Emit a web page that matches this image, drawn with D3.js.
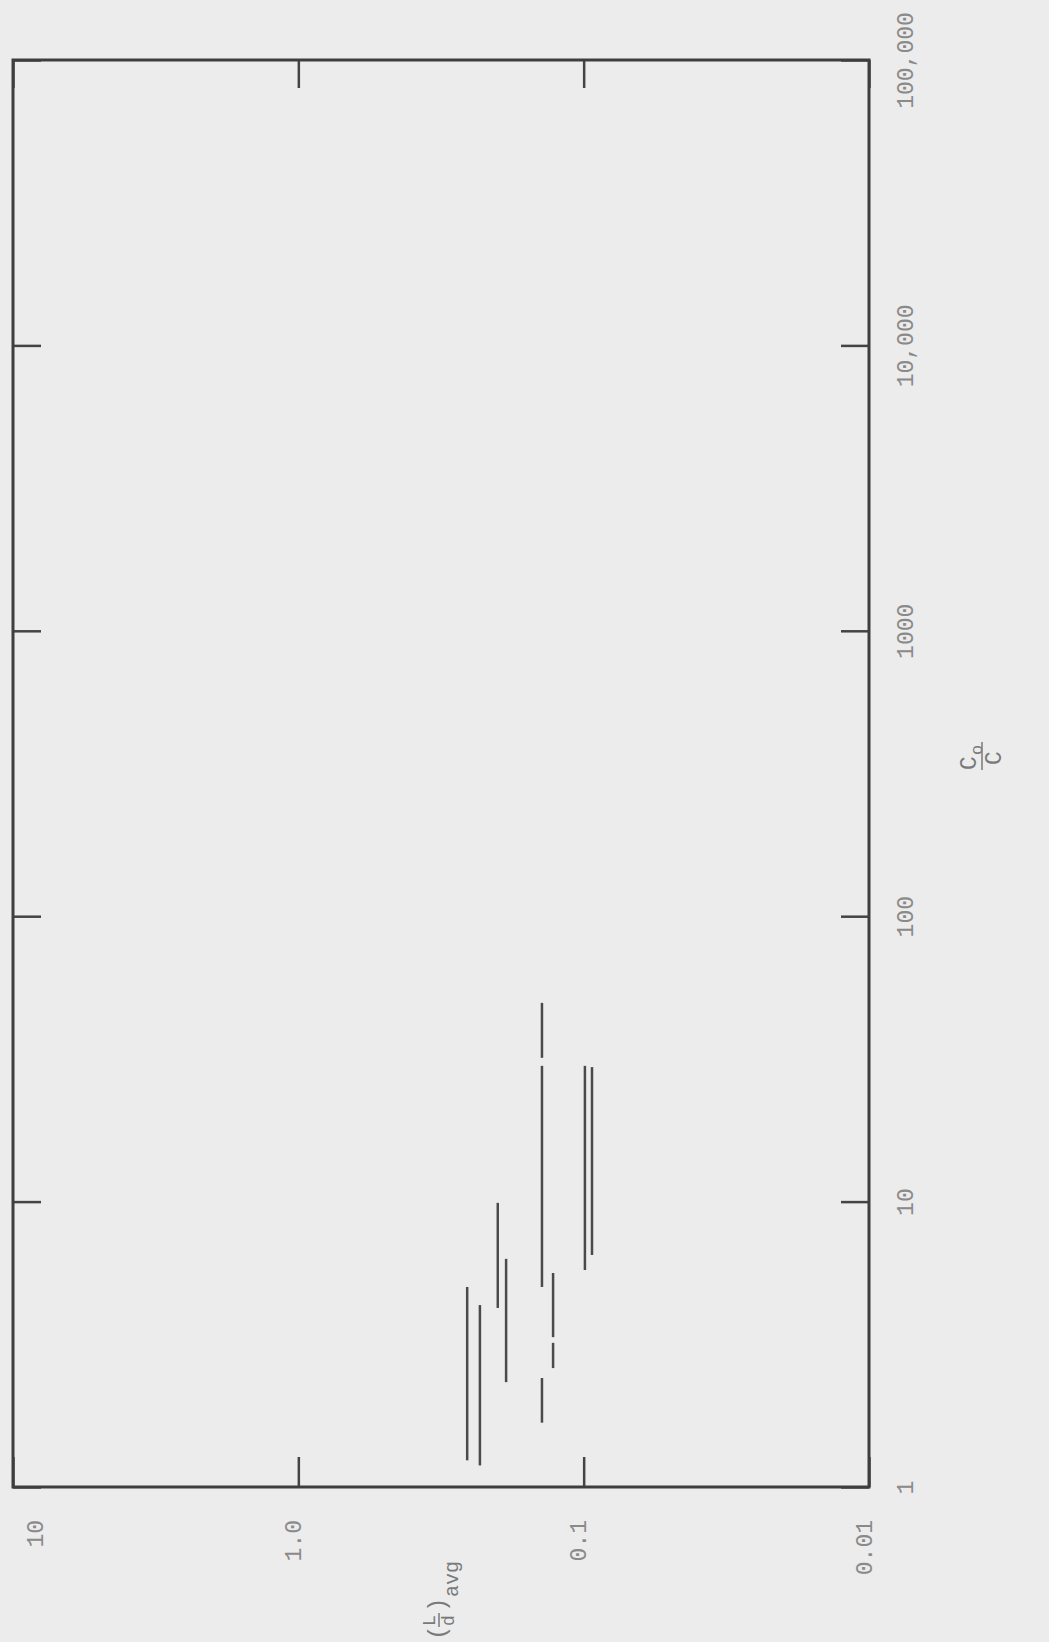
<!DOCTYPE html>
<html>
<head>
<meta charset="utf-8">
<script src="https://cdnjs.cloudflare.com/ajax/libs/d3/7.8.5/d3.min.js"></script>
<style>
	body { margin: 0; background: #ececec; }
	.tick text { font-family: "Liberation Mono", "DejaVu Sans Mono", monospace; fill: #8a8a8a; }
	.axis-title { font-family: "Liberation Mono", "DejaVu Sans Mono", monospace; fill: #7a7a7a; }
</style>
</head>
<body>
<div id="chart"></div>
<script>
	// L/d values (horizontal, decreasing to the right) and C0/C ranges (vertical)
	const ldTicks = [10, 1, 0.1, 0.01];
	const ldTickLabels = ["10", "1.0", "0.1", "0.01"];
	const cTicks = [1, 10, 100, 1000, 10000, 100000];
	const cTickLabels = ["1", "10", "100", "1000", "10,000", "100,000"];

	const segLd   = [0.256, 0.231, 0.200, 0.187, 0.140, 0.140, 0.140, 0.128, 0.128, 0.099, 0.0935];
	const segCLow = [1.24, 1.19, 4.24, 2.33, 5.02, 31.9, 1.68, 3.35, 2.61, 5.76, 6.50];
	const segCHigh = [5.02, 4.34, 9.9, 6.3, 29.9, 49.7, 2.41, 5.62, 3.20, 29.9, 29.6];

	const svgWidth = 1049;
	const svgHeight = 1642;
	const frame = {left: 13, right: 869, top: 60, bottom: 1487};

	var svg = d3.select("#chart").append("svg")
		.attr("width", svgWidth)
		.attr("height", svgHeight)
		.style("display", "block");

	svg.append("rect")
		.attr("width", svgWidth)
		.attr("height", svgHeight)
		.attr("fill", "#ececec");

	var xScale = d3.scaleLog()
		.domain([10, 0.01])
		.range([frame.left, frame.right]);

	var yScale = d3.scaleLog()
		.domain([1, 100000])
		.range([frame.bottom, frame.top]);

	// Axes, ticks pointing into the frame
	var rightAxis = svg.append("g")
		.attr("transform", "translate(" + frame.right + ",0)")
		.call(d3.axisRight(yScale)
			.tickValues(cTicks)
			.tickSizeInner(-28)
			.tickSizeOuter(0)
			.tickFormat(function(d, i) { return cTickLabels[i]; }));

	rightAxis.selectAll(".tick text")
		.attr("x", 0)
		.attr("dy", null)
		.attr("text-anchor", "middle")
		.attr("font-size", 23)
		.attr("transform", "translate(44,0) rotate(-90)");

	svg.append("g")
		.attr("transform", "translate(" + frame.left + ",0)")
		.call(d3.axisLeft(yScale)
			.tickValues(cTicks)
			.tickSizeInner(-28)
			.tickSizeOuter(0)
			.tickFormat(""));

	var bottomAxis = svg.append("g")
		.attr("transform", "translate(0," + frame.bottom + ")")
		.call(d3.axisBottom(xScale)
			.tickValues(ldTicks)
			.tickSizeInner(-30)
			.tickSizeOuter(0)
			.tickFormat(function(d, i) { return ldTickLabels[i]; }));

	bottomAxis.selectAll(".tick text")
		.attr("y", 0)
		.attr("dy", null)
		.attr("text-anchor", "end")
		.attr("font-size", 23)
		.attr("transform", function(d) {
			var shift = Math.max(xScale(d) + 2, 42) - xScale(d);
			return "translate(" + shift + ",33) rotate(-90)";
		});

	svg.append("g")
		.attr("transform", "translate(0," + frame.top + ")")
		.call(d3.axisTop(xScale)
			.tickValues(ldTicks)
			.tickSizeInner(-28)
			.tickSizeOuter(0)
			.tickFormat(""));

	svg.selectAll(".domain").remove();
	svg.selectAll(".tick line")
		.attr("stroke", "#444")
		.attr("stroke-width", 2.5);

	// Frame
	svg.append("rect")
		.attr("x", frame.left)
		.attr("y", frame.top)
		.attr("width", frame.right - frame.left)
		.attr("height", frame.bottom - frame.top)
		.attr("fill", "none")
		.attr("stroke", "#3e3e3e")
		.attr("stroke-width", 3);

	// Data ranges
	svg.selectAll(".range")
		.data(segLd)
		.enter().append("line")
			.attr("class", "range")
			.attr("x1", function(d) { return xScale(d); })
			.attr("x2", function(d) { return xScale(d); })
			.attr("y1", function(d, i) { return yScale(segCLow[i]); })
			.attr("y2", function(d, i) { return yScale(segCHigh[i]); })
			.attr("stroke", "#4a4a4a")
			.attr("stroke-width", 2.5);

	// Axis titles, drawn rotated like the page
	var ldTitle = svg.append("g")
		.attr("class", "axis-title")
		.attr("transform", "translate(438,1640) rotate(-90)");
	ldTitle.append("text").text("(").attr("x", 0).attr("y", 7).attr("font-size", 24);
	ldTitle.append("text").text("L").attr("x", 14).attr("y", -3).attr("font-size", 18);
	ldTitle.append("line")
		.attr("x1", 13).attr("x2", 27).attr("y1", 1).attr("y2", 1)
		.attr("stroke", "#7a7a7a").attr("stroke-width", 1.5);
	ldTitle.append("text").text("d").attr("x", 14).attr("y", 16).attr("font-size", 18);
	ldTitle.append("text").text(")").attr("x", 28).attr("y", 7).attr("font-size", 24);
	ldTitle.append("text").text("avg").attr("x", 43).attr("y", 20).attr("font-size", 20);

	var cTitle = svg.append("g")
		.attr("class", "axis-title")
		.attr("transform", "translate(980,770) rotate(-90)");
	cTitle.append("text").text("C").attr("x", 0).attr("y", -4).attr("font-size", 23);
	cTitle.append("text").text("o").attr("x", 15).attr("y", 2).attr("font-size", 17);
	cTitle.append("line")
		.attr("x1", 0).attr("x2", 28).attr("y1", 2).attr("y2", 2)
		.attr("stroke", "#7a7a7a").attr("stroke-width", 1.5);
	cTitle.append("text").text("C").attr("x", 5).attr("y", 21).attr("font-size", 23);
</script>
</body>
</html>
